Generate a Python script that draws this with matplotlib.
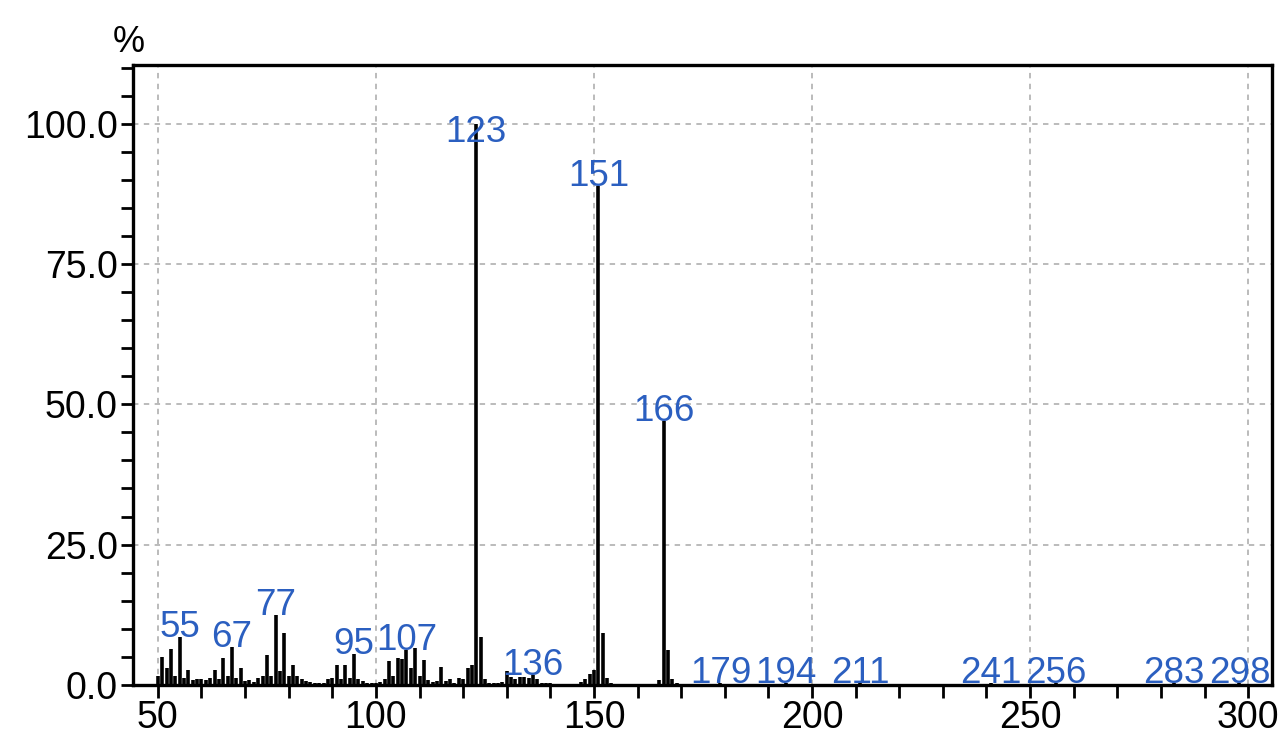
import numpy as np
import matplotlib
matplotlib.use("Agg")
import matplotlib.pyplot as plt
from matplotlib.ticker import MultipleLocator, FormatStrFormatter

# Peak list (m/z, relative intensity %)
mz = [50, 51, 52, 53, 54, 55, 56, 57, 58, 59, 60, 61, 62, 63, 64, 65, 66, 67, 68, 69,
      70, 71, 72, 73, 74, 75, 76, 77, 78, 79, 80, 81, 82, 83, 84, 85, 86, 87, 88, 89,
      90, 91, 92, 93, 94, 95, 96, 97, 98, 99, 100, 101, 102, 103, 104, 105, 106, 107, 108, 109,
      110, 111, 112, 113, 114, 115, 116, 117, 118, 119, 120, 121, 122, 123, 124, 125, 126, 127, 128, 129,
      130, 131, 132, 133, 134, 135, 136, 137, 138, 139, 140, 141, 143, 145, 147, 148, 149,
      150, 151, 152, 153, 154, 156, 158, 160, 162, 164, 165, 166, 167, 168, 169,
      172, 175, 179, 183, 187, 194, 199, 205, 211, 218, 226, 233, 241, 248, 256,
      264, 271, 277, 283, 290, 298, 303]
intensity = [1.5, 5.0, 3.0, 6.4, 1.5, 8.6, 1.2, 2.7, 0.8, 1.0, 1.0, 0.8, 1.2, 2.7, 1.0, 4.8, 1.5, 6.8, 1.3, 3.0,
             0.6, 0.8, 0.5, 1.2, 1.5, 5.3, 1.5, 12.5, 2.5, 9.2, 1.5, 3.6, 1.5, 1.0, 0.6, 0.5, 0.4, 0.3, 0.4, 1.0,
             1.2, 3.6, 1.0, 3.6, 1.3, 5.5, 1.0, 0.6, 0.3, 0.3, 0.4, 0.5, 1.0, 4.2, 1.5, 4.8, 4.6, 6.2, 3.0, 6.6,
             1.5, 4.5, 0.8, 0.5, 0.6, 3.1, 0.6, 1.0, 0.4, 1.2, 1.0, 3.0, 3.6, 100.0, 8.6, 1.0, 0.3, 0.3, 0.3, 0.5,
             2.4, 1.4, 1.0, 1.4, 1.4, 1.3, 1.8, 1.0, 0.4, 0.3, 0.3, 0.2, 0.2, 0.2, 0.5, 1.0, 2.0,
             2.6, 89.0, 9.2, 1.2, 0.3, 0.2, 0.2, 0.2, 0.2, 0.2, 0.8, 47.0, 6.2, 1.0, 0.3,
             0.2, 0.2, 0.4, 0.2, 0.2, 0.4, 0.2, 0.2, 0.3, 0.2, 0.2, 0.2, 0.3, 0.2, 0.3,
             0.2, 0.2, 0.2, 0.3, 0.2, 0.3, 0.2]

labelled = [55, 67, 77, 95, 107, 123, 136, 151, 166, 179, 194, 211, 241, 256, 283, 298]

plt.rcParams['font.family'] = ['Liberation Sans', 'DejaVu Sans']

fig = plt.figure(figsize=(12.85, 7.46), dpi=100)
ax = fig.add_axes([0.1035, 0.082, 0.8865, 0.831])

ax.vlines(mz, 0, intensity, color='black', lw=2.6, zorder=3)

# peak labels sit on the peak tops (capped so 123 stays inside the frame)
peak = dict(zip(mz, intensity))
for m in labelled:
    y = min(peak[m], 96.8)
    ax.text(m, y, str(m), color='#2b5fc0', fontsize=26.5, ha='center', va='baseline', zorder=4)

ax.set_xlim(44.3, 305.5)
ax.set_ylim(0, 110.5)
ax.xaxis.set_major_locator(MultipleLocator(50))
ax.xaxis.set_minor_locator(MultipleLocator(10))
ax.yaxis.set_major_locator(MultipleLocator(25))
ax.yaxis.set_minor_locator(MultipleLocator(5))
ax.yaxis.set_major_formatter(FormatStrFormatter('%.1f'))
ax.tick_params(which='both', direction='out', length=9, width=2, labelsize=27, pad=2)
ax.set_yticks([0, 25, 50, 75, 100])

ax.grid(True, which='major', color='#b5b5b5', linestyle=(0, (3, 3)), lw=1.3, zorder=0)
for s in ax.spines.values():
    s.set_linewidth(2.4)

ax.text(-0.004, 1.008, '%', transform=ax.transAxes, fontsize=26, ha='center', va='bottom')

fig.savefig('out.png', dpi=100)
